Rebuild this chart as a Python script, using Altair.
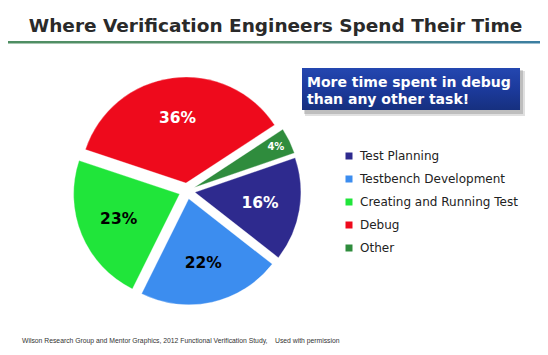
import math
import altair as alt
import pandas as pd

# ---- data ----
categories = ["Test Planning", "Testbench Development", "Creating and Running Test", "Debug", "Other"]
values = [16, 22, 23, 36, 4]
colors = ["#2E2A8E", "#3C8DEF", "#20E53A", "#EE0A1C", "#2F8C3D"]
dark_text_tasks = ["Testbench Development", "Creating and Running Test"]

title_text = "Where Verification Engineers Spend Their Time"
callout_lines = ["More time spent in debug", "than any other task!"]
footer_text = "Wilson Research Group and Mentor Graphics, 2012 Functional Verification Study,\u00a0\u00a0\u00a0\u00a0Used with permission"

df = pd.DataFrame({"task": categories, "pct": values})

W, H = 532, 339
CX, CY, R, EXPLODE = 179, 183, 106, 8
START = math.radians(71)

base = (
    alt.Chart(df)
    .transform_joinaggregate(total="sum(pct)")
    .transform_window(cum="sum(pct)", frame=[None, 0])
    .transform_calculate(
        t0=f"{START} + 2*PI*(datum.cum - datum.pct)/datum.total",
        t1=f"{START} + 2*PI*datum.cum/datum.total",
    )
    .transform_calculate(mid="(datum.t0 + datum.t1)/2")
    .transform_calculate(
        px=f"{CX} + {EXPLODE}*sin(datum.mid)",
        py=f"{CY} - {EXPLODE}*cos(datum.mid)",
        lr="datum.pct/datum.total < 0.06 ? 91 : 66",
        label="datum.pct + '%'",
    )
    .transform_calculate(
        lx="datum.px + datum.lr*sin(datum.mid)",
        ly="datum.py - datum.lr*cos(datum.mid)",
    )
)

pie = base.mark_arc(radius=R, stroke="#ffffff", strokeWidth=0.3).encode(
    theta=alt.Theta("t0:Q", scale=None),
    theta2="t1:Q",
    x=alt.X("px:Q", scale=None, axis=None),
    y=alt.Y("py:Q", scale=None, axis=None),
    color=alt.Color(
        "task:N",
        sort=categories,
        scale=alt.Scale(domain=categories, range=colors),
        legend=alt.Legend(
            title=None,
            orient="none",
            legendX=335,
            legendY=142,
            symbolType="square",
            symbolSize=49,
            symbolStrokeWidth=0,
            labelFontSize=12,
            labelFont="DejaVu Sans",
            labelColor="#222222",
            rowPadding=11,
            padding=0,
            labelOffset=5,
        ),
    ),
)

labels = base.mark_text(font="DejaVu Sans", fontWeight="bold", baseline="middle", align="center").encode(
    x=alt.X("lx:Q", scale=None, axis=None),
    y=alt.Y("ly:Q", scale=None, axis=None),
    text="label:N",
    size=alt.condition("datum.pct < 5", alt.value(10), alt.value(15.5)),
    color=alt.condition(
        alt.FieldOneOfPredicate(field="task", oneOf=dark_text_tasks),
        alt.value("#000000"),
        alt.value("#ffffff"),
    ),
)

one = alt.Chart(pd.DataFrame({"t": [title_text]}))

title = one.mark_text(
    font="DejaVu Sans", fontWeight="bold", fontSize=18.5, color="#2a2a2a", align="center", baseline="alphabetic"
).encode(x=alt.value(267.5), y=alt.value(23.5), text="t:N")

underline = one.mark_rect(
    fill=alt.Gradient(
        gradient="linear",
        stops=[
            alt.GradientStop(color="#4E8E62", offset=0),
            alt.GradientStop(color="#5A9070", offset=0.5),
            alt.GradientStop(color="#3B7EA2", offset=1),
        ],
        x1=0, x2=1, y1=0, y2=0,
    )
).encode(x=alt.value(0), x2=alt.value(W), y=alt.value(33), y2=alt.value(35.5))

shadow1 = one.mark_rect(fill="#000000", opacity=0.12).encode(
    x=alt.value(297), x2=alt.value(517), y=alt.value(63), y2=alt.value(108)
)
shadow2 = one.mark_rect(fill="#000000", opacity=0.15).encode(
    x=alt.value(296), x2=alt.value(515), y=alt.value(62), y2=alt.value(106)
)
box = one.mark_rect(
    fill=alt.Gradient(
        gradient="linear",
        stops=[
            alt.GradientStop(color="#2447B0", offset=0),
            alt.GradientStop(color="#1C3A9C", offset=0.5),
            alt.GradientStop(color="#16307F", offset=1),
        ],
        x1=0, x2=0, y1=0, y2=1,
    )
).encode(x=alt.value(294), x2=alt.value(512), y=alt.value(60), y2=alt.value(102))

callout_style = dict(font="DejaVu Sans", fontWeight="bold", fontSize=14, color="#ffffff", align="left", baseline="alphabetic")
callout1 = alt.Chart(pd.DataFrame({"t": [callout_lines[0]]})).mark_text(**callout_style).encode(
    x=alt.value(299), y=alt.value(79), text="t:N"
)
callout2 = alt.Chart(pd.DataFrame({"t": [callout_lines[1]]})).mark_text(**callout_style).encode(
    x=alt.value(299), y=alt.value(96), text="t:N"
)

footer = alt.Chart(pd.DataFrame({"t": [footer_text]})).mark_text(
    font="Liberation Sans", fontSize=6.8, color="#333333", align="left", baseline="alphabetic"
).encode(x=alt.value(14), y=alt.value(335), text="t:N")

chart = (
    alt.layer(underline, title, shadow1, shadow2, box, callout1, callout2, pie, labels, footer)
    .resolve_scale(x="independent", y="independent")
    .properties(width=W, height=H, padding=0, autosize="none", background="#ffffff")
    .configure_view(stroke=None)
)

chart.save("out.html", embed_options={"renderer": "svg", "actions": False})
